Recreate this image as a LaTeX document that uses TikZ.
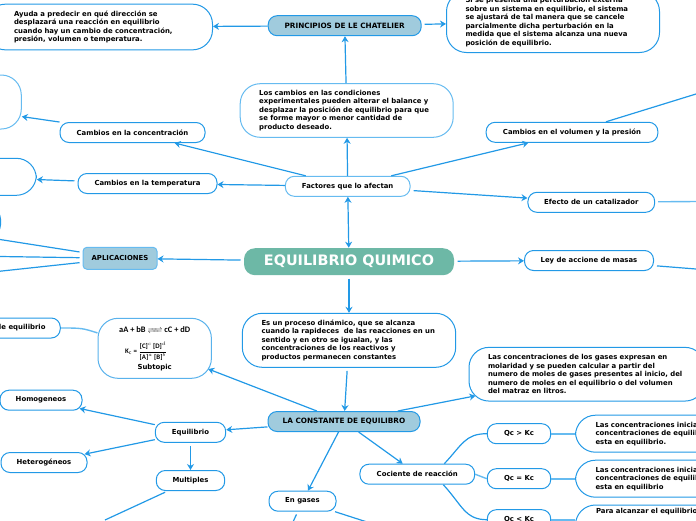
\documentclass[tikz,border=0pt]{standalone}
\usepackage{fontspec}
\usepackage{amsmath,mathtools}
\setmainfont{DejaVu Sans}
\newfontfamily\formulafont{Carlito}
\usetikzlibrary{arrows.meta}
\definecolor{linkblue}{HTML}{2299E6}
\definecolor{softblue}{HTML}{66BBF0}
\definecolor{headteal}{HTML}{6DB8A6}
\definecolor{headblue}{HTML}{A0CBDD}
\tikzset{
  mapbox/.style={draw=linkblue,line width=1pt,rounded corners=20pt,fill=white,font=\bfseries\fontsize{6.9}{8.5}\selectfont,align=left,inner sep=0pt},
  topic/.style={mapbox,rounded corners=9pt,align=center,minimum height=20pt},
  softtopic/.style={topic,draw=softblue},
  headbox/.style={topic,fill=headblue,font=\bfseries\fontsize{7.3}{8.5}\selectfont},
  link/.style={draw=linkblue,line width=1.2pt},
  softlink/.style={draw=softblue,line width=1.4pt},
  arrowlink/.style={link,-{Stealth[length=6pt,width=7pt]}},
  gap/.style={shorten <=3pt},
}
\begin{document}
\begin{tikzpicture}[x=1pt,y=-1pt]
  \useasboundingbox (0,0) rectangle (696,520);
  \clip (0,0) rectangle (696,520);
  % main nodes
  \node[topic,fill=headteal,draw=none,rounded corners=11pt,minimum width=210pt,minimum height=27pt,text=white,font=\bfseries\fontsize{14.4}{16}\selectfont] (main) at (349,261.7) {EQUILIBRIO QUIMICO};
  \node[headbox,minimum width=153pt] (chatelier) at (344.7,25.7) {PRINCIPIOS DE LE CHATELIER};
  \node[headbox,minimum width=152pt] (constante) at (344,421.5) {LA CONSTANTE DE EQUILIBRO};
  \node[headbox,minimum width=74pt,minimum height=22pt,rounded corners=4pt,draw=softblue,font=\bfseries\fontsize{6.9}{8.5}\selectfont] (aplic) at (120,258.3) {APLICACIONES};
  % text boxes, top
  \node[mapbox,minimum width=227pt,minimum height=45.7pt,text width=170pt] (ayuda) at (99,27) {Ayuda a predecir en qué dirección se\\desplazará una reacción en equilibrio\\cuando hay un cambio de concentración,\\presión, volumen o temperatura.};
  \node[mapbox,minimum width=213pt,minimum height=61pt,text width=175pt] (perturb) at (553,22) {Si se presenta una perturbación externa\\sobre un sistema en equilibrio, el sistema\\se ajustará de tal manera que se cancele\\parcialmente dicha perturbación en la\\medida que el sistema alcanza una nueva\\posición de equilibrio.};
  \node[mapbox,draw=softblue,minimum width=213pt,minimum height=53.6pt,text width=175pt] (cambios) at (346.7,110.5) {Los cambios en las condiciones\\experimentales pueden alterar el balance y\\desplazar la posición de equilibrio para que\\se forme mayor o menor cantidad de\\producto deseado.};
  % topics around the factors
  \node[softtopic,minimum width=124.7pt] (factores) at (347.7,186.3) {Factores que lo afectan};
  \node[topic,minimum width=145pt] (concen) at (132.5,132.5) {Cambios en la concentración};
  \node[topic,minimum width=139pt] (temper) at (147.5,183.5) {Cambios en la temperatura};
  \node[topic,minimum width=171.7pt] (volumen) at (572,132.3) {Cambios en el volumen y la presión};
  \node[topic,minimum width=126.7pt] (catal) at (591.3,202.3) {Efecto de un catalizador};
  \node[topic,minimum width=129pt] (ley) at (589,260.5) {Ley de accione de masas};
  \node[mapbox,draw=softblue,minimum width=202.6pt,minimum height=54pt] (concbox) at (-80,102) {};
  \node[mapbox,minimum width=152.6pt,minimum height=37pt] (tempbox) at (-40,176.8) {};
  \node[mapbox,rounded corners=10pt,minimum width=41pt,minimum height=26pt] (aplbox) at (-20,222) {};
  % lower part
  \node[mapbox,minimum width=213.4pt,minimum height=54pt,text width=175pt] (proceso) at (349,340.3) {Es un proceso dinámico, que se alcanza\\cuando la rapideces\ \ de las reacciones en un\\sentido y en otro se igualan, y las\\concentraciones de los reactivos y\\productos permanecen constantes};
  \node[mapbox,draw=linkblue!75,align=center,minimum width=113.4pt,minimum height=60pt] (formula) at (154.7,348.3) {{\formulafont\fontsize{8.4}{9}\selectfont aA + bB $\xrightleftharpoons{\hspace{9pt}}$ cC + dD}\\[4pt]\hspace*{-17pt}{\formulafont K$_{\mathrm{c}}$ = $\dfrac{\mbox{[C]}^{c}\,\mbox{[D]}^{d}}{\mbox{[A]}^{a}\,\mbox{[B]}^{b}}$}\\[3pt]Subtopic};
  \node[topic,minimum width=120.5pt] (tipos) at (0,328) {Constante de equilibrio};
  \node[topic,minimum width=82pt] (homog) at (41,400.2) {Homogeneos};
  \node[topic,minimum width=86pt] (heter) at (44,462.5) {Heterogéneos};
  \node[topic,minimum width=70.4pt] (equil) at (190.5,432.3) {Equilibrio};
  \node[topic,minimum width=68.4pt] (mult) at (190.5,480.5) {Multiples};
  \node[topic,minimum width=67pt] (gases) at (302.5,501.2) {En gases};
  \node[topic,minimum width=114.7pt] (cociente) at (417.3,474.2) {Cociente de reacción};
  \node[mapbox,minimum width=236pt,minimum height=53.7pt,text width=198pt] (molar) at (587,374.2) {Las concentraciones de los gases expresan en\\molaridad y se pueden calcular a partir del\\numero de moles de gases presentes al inicio, del\\numero de moles en el equilibrio o del volumen\\del matraz en litros.};
  \node[topic,minimum width=63.4pt] (qmay) at (519,433.7) {Qc > Kc};
  \node[topic,minimum width=63.4pt] (qigu) at (519,478.7) {Qc = Kc};
  \node[topic,minimum width=63.4pt] (qmen) at (519,519.7) {Qc < Kc};
  \node[mapbox,anchor=west,minimum width=160pt,minimum height=37pt,text width=140pt] (tmay) at (575,433.7) {\hspace*{10pt}Las concentraciones iniciales\\\hspace*{10pt}concentraciones de equilibrio\\\hspace*{10pt}esta en equilibrio.};
  \node[mapbox,anchor=west,minimum width=160pt,minimum height=37pt,text width=140pt] (tigu) at (575,478.7) {\hspace*{10pt}Las concentraciones iniciales\\\hspace*{10pt}concentraciones de equilibrio\\\hspace*{10pt}esta en equilibrio};
  \node[mapbox,anchor=west,minimum width=160pt,minimum height=37pt,text width=140pt] (tmen) at (575,523.5) {\hspace*{10.5pt}Para alcanzar el equilibrio\\[17pt]\mbox{}};
  % free ends
  \coordinate (voltop) at (696,94);
  \coordinate (catend) at (696,201.5);
  \coordinate (leyend) at (696,269);
  \coordinate (multend) at (105,520);
  \coordinate (gasleft) at (293,522);
  \coordinate (gasright) at (367,522);
  \coordinate (apltop) at (0,239.5);
  \coordinate (aplmid) at (0,256.5);
  \coordinate (aplbot) at (0,271.2);
  % arrows
  \draw[arrowlink] (chatelier) -- (ayuda);
  \draw[arrowlink,gap] (chatelier) -- (perturb);
  \draw[arrowlink] (cambios) -- (chatelier);
  \draw[arrowlink] (factores) -- (cambios);
  \draw[arrowlink] (factores) -- (temper);
  \draw[arrowlink] (factores) -- (concen);
  \draw[arrowlink] (factores) -- (volumen);
  \draw[arrowlink,gap] (factores) -- (catal);
  \draw[arrowlink] (concen) -- (concbox);
  \draw[arrowlink,gap] (temper) -- (tempbox);
  \draw[arrowlink,gap] (main) -- (aplic);
  \draw[arrowlink,gap] (main) -- (ley);
  \draw[link,{Stealth[length=6pt,width=7pt]}-{Stealth[length=6pt,width=7pt]}] (factores) -- (main);
  \draw[arrowlink,gap] (main) -- (proceso);
  \draw[arrowlink,gap] (proceso) -- (constante);
  \draw[arrowlink,shorten >=-4pt] (constante) -- (formula);
  \draw[arrowlink,shorten >=-7pt] (constante) -- (molar);
  \draw[arrowlink] (constante) -- (equil);
  \draw[arrowlink,shorten >=-3pt] (equil) -- (homog);
  \draw[arrowlink,shorten >=-3pt] (equil) -- (heter);
  \draw[arrowlink,gap] (equil) -- (mult);
  \draw[arrowlink] (constante) -- (gases);
  \draw[arrowlink] (constante) -- (cociente);
  \draw[softlink] (tipos.east) .. controls +(20,0) and +(-15,-5) .. (formula.165);
  \draw[link,gap] (mult) -- (multend);
  \draw[link,gap] (gases) -- (gasleft);
  \draw[link] (gases) -- (gasright);
  \draw[link,gap] (aplic) -- (apltop);
  \draw[link,gap] (aplic) -- (aplmid);
  \draw[link,gap] (aplic) -- (aplbot);
  \draw[link] (volumen) -- (voltop);
  \draw[softlink,gap] (catal) -- (catend);
  \draw[link,gap] (ley) -- (leyend);
  % quotients
  \draw[link] ([xshift=27pt]cociente.north) .. controls (462,445) and (465,433.7) .. (qmay.west);
  \draw[softlink] (cociente.east) -- (qigu.west);
  \draw[link] ([xshift=26pt]cociente.south) .. controls (462,505) and (465,519.7) .. (qmen.west);
  \draw[softlink,line width=2pt] (qmay.east) -- (tmay.west);
  \draw[softlink,line width=2pt] (qigu.east) -- (tigu.west);
  \draw[softlink,line width=2pt] (qmen.east) -- (tmen.west |- qmen.east);
\end{tikzpicture}
\end{document}
